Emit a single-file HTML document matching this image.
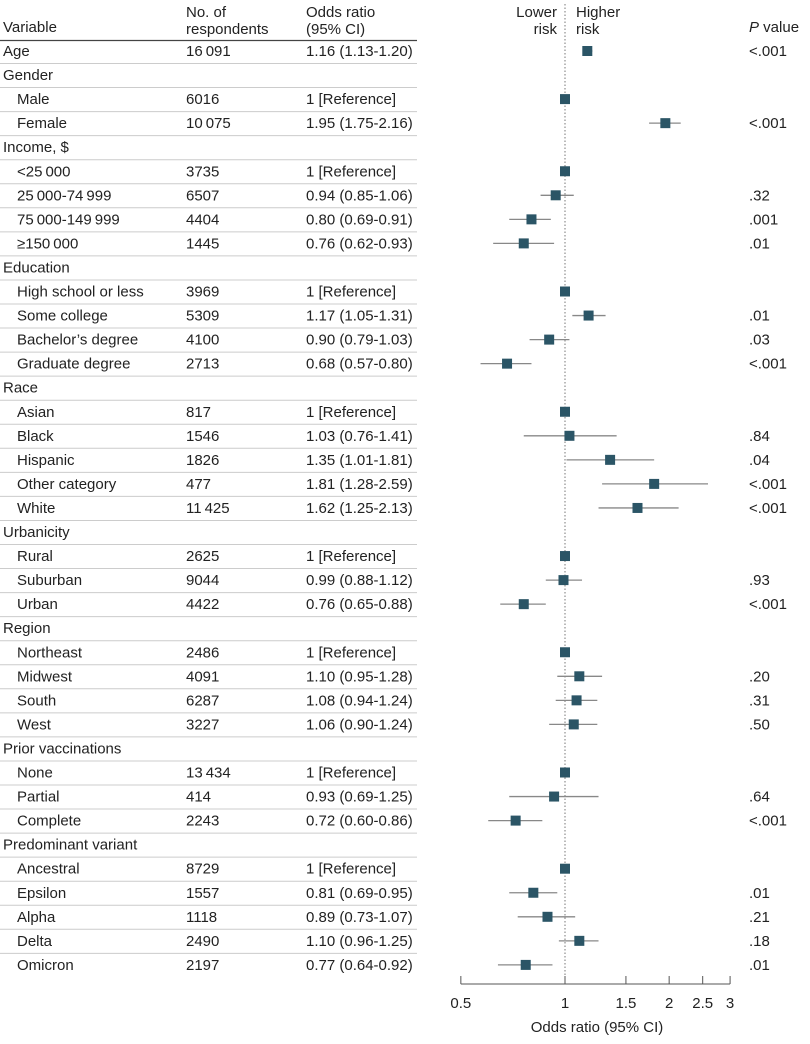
<!DOCTYPE html>
<html><head><meta charset="utf-8"><style>
body{margin:0;background:#fff;}
svg text{font-family:"Liberation Sans Narrow","Liberation Sans",sans-serif;font-size:15px;fill:#222;}
</style></head><body>
<svg id="chart" width="810" height="1039" xmlns="http://www.w3.org/2000/svg">
<g id="hdr">
<text x="3" y="32">Variable</text>
<text x="186" y="17">No. of</text>
<text x="186" y="34">respondents</text>
<text x="306" y="17">Odds ratio</text>
<text x="306" y="34">(95% CI)</text>
<text x="557" y="17" text-anchor="end">Lower</text>
<text x="557" y="34" text-anchor="end">risk</text>
<text x="576" y="17">Higher</text>
<text x="576" y="34">risk</text>
<text x="749" y="32"><tspan font-style="italic">P</tspan> value</text>
<line x1="0" y1="40.5" x2="417" y2="40.5" stroke="#444" stroke-width="1.2"/>
</g>
<g id="rows"></g>
<g id="axis"></g>
</svg>
<script>
const labels=["Age","Gender","Male","Female","Income, $","<25\u2009000","25\u2009000-74\u2009999","75\u2009000-149\u2009999","≥150\u2009000","Education","High school or less","Some college","Bachelor’s degree","Graduate degree","Race","Asian","Black","Hispanic","Other category","White","Urbanicity","Rural","Suburban","Urban","Region","Northeast","Midwest","South","West","Prior vaccinations","None","Partial","Complete","Predominant variant","Ancestral","Epsilon","Alpha","Delta","Omicron"];
const indent=[0,0,1,1,0,1,1,1,1,0,1,1,1,1,0,1,1,1,1,1,0,1,1,1,0,1,1,1,1,0,1,1,1,0,1,1,1,1,1];
const counts=["16\u2009091","","6016","10\u2009075","","3735","6507","4404","1445","","3969","5309","4100","2713","","817","1546","1826","477","11\u2009425","","2625","9044","4422","","2486","4091","6287","3227","","13\u2009434","414","2243","","8729","1557","1118","2490","2197"];
const orText=["1.16 (1.13-1.20)","","1 [Reference]","1.95 (1.75-2.16)","","1 [Reference]","0.94 (0.85-1.06)","0.80 (0.69-0.91)","0.76 (0.62-0.93)","","1 [Reference]","1.17 (1.05-1.31)","0.90 (0.79-1.03)","0.68 (0.57-0.80)","","1 [Reference]","1.03 (0.76-1.41)","1.35 (1.01-1.81)","1.81 (1.28-2.59)","1.62 (1.25-2.13)","","1 [Reference]","0.99 (0.88-1.12)","0.76 (0.65-0.88)","","1 [Reference]","1.10 (0.95-1.28)","1.08 (0.94-1.24)","1.06 (0.90-1.24)","","1 [Reference]","0.93 (0.69-1.25)","0.72 (0.60-0.86)","","1 [Reference]","0.81 (0.69-0.95)","0.89 (0.73-1.07)","1.10 (0.96-1.25)","0.77 (0.64-0.92)"];
const orVal=[1.16,null,1,1.95,null,1,0.94,0.80,0.76,null,1,1.17,0.90,0.68,null,1,1.03,1.35,1.81,1.62,null,1,0.99,0.76,null,1,1.10,1.08,1.06,null,1,0.93,0.72,null,1,0.81,0.89,1.10,0.77];
const ciLo=[1.13,null,null,1.75,null,null,0.85,0.69,0.62,null,null,1.05,0.79,0.57,null,null,0.76,1.01,1.28,1.25,null,null,0.88,0.65,null,null,0.95,0.94,0.90,null,null,0.69,0.60,null,null,0.69,0.73,0.96,0.64];
const ciHi=[1.20,null,null,2.16,null,null,1.06,0.91,0.93,null,null,1.31,1.03,0.80,null,null,1.41,1.81,2.59,2.13,null,null,1.12,0.88,null,null,1.28,1.24,1.24,null,null,1.25,0.86,null,null,0.95,1.07,1.25,0.92];
const pVals=["<.001","","","<.001","","",".32",".001",".01","","",".01",".03","<.001","","",".84",".04","<.001","<.001","","",".93","<.001","","",".20",".31",".50","","",".64","<.001","","",".01",".21",".18",".01"];
const ticks=[0.5,1,1.5,2,2.5,3];
const tickLabels=["0.5","1","1.5","2","2.5","3"];

const NS="http://www.w3.org/2000/svg";
const x0=565, perDec=346;
function xs(v){return x0+perDec*Math.log10(v);}
function ys(i){return 51+i*24.05;}
function mk(tag,attrs,parent,txt){const e=document.createElementNS(NS,tag);for(const k in attrs)e.setAttribute(k,attrs[k]);if(txt!==undefined)e.textContent=txt;parent.appendChild(e);return e;}
const rows=document.getElementById('rows');
const axis=document.getElementById('axis');
const ref=mk('line',{x1:x0,y1:4,x2:x0,y2:978,stroke:'#777','stroke-width':1,'stroke-dasharray':'1.5,2'},rows);


labels.forEach((lab,i)=>{
  const y=ys(i);
  const g=mk('g',{},rows);
  
  
  if(i<labels.length-1){
    const sep=mk('line',{x1:0,y1:y+12.5,x2:417,y2:y+12.5,stroke:'#ccc','stroke-width':1},g);
    
    
  }
  const t=mk('text',{x:indent[i]?17:3,y:y+5},g,lab);
  
  
  if(counts[i]){const c=mk('text',{x:186,y:y+5},g,counts[i]);
    
    }
  if(orText[i]){const o=mk('text',{x:306,y:y+5},g,orText[i]);
    
    }
  if(pVals[i]){const p=mk('text',{x:749,y:y+5},g,pVals[i]);
    
    }
  if(ciLo[i]!==null){
    const l=mk('line',{x1:xs(ciLo[i]),y1:y,x2:xs(ciHi[i]),y2:y,stroke:'#888','stroke-width':1.3},g);
    
    
  }
  if(orVal[i]!==null){
    const r=mk('rect',{x:xs(orVal[i])-5,y:y-5,width:10,height:10,fill:'#2b5566'},g);
    
    
  }
});
const al=mk('line',{x1:xs(0.5),y1:984,x2:xs(3),y2:984,stroke:'#555','stroke-width':1},axis);


ticks.forEach((v,i)=>{
  const tl=mk('line',{x1:xs(v),y1:976,x2:xs(v),y2:984,stroke:'#555','stroke-width':1},axis);
  
  
  const tt=mk('text',{x:xs(v),y:1008,'text-anchor':'middle'},axis,tickLabels[i]);
  
  
});
const at=mk('text',{x:x0+32,y:1032,'text-anchor':'middle'},axis,'Odds ratio (95% CI)');


</script>
</body></html>
